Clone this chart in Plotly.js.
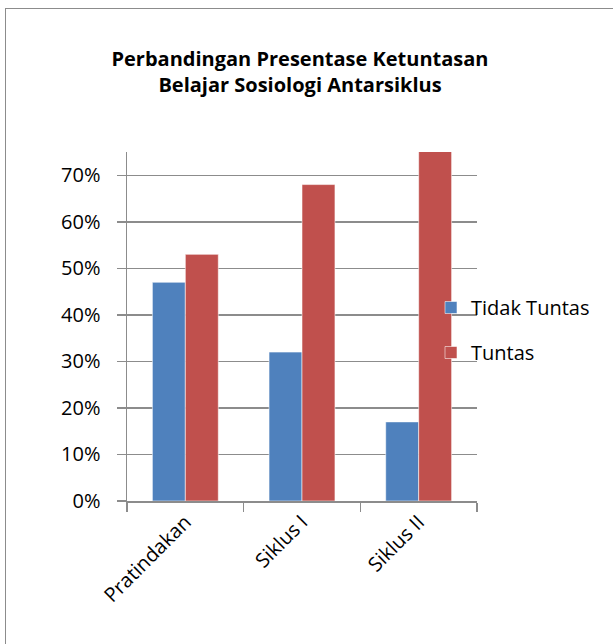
<!DOCTYPE html>
<html>
<head>
<meta charset="utf-8">
<script src="https://cdn.plot.ly/plotly-3.0.1.min.js"></script>
<style>
  html, body { margin: 0; padding: 0; background: #ffffff; }
  #wrap { position: relative; width: 613px; height: 644px; overflow: hidden; }
  #frame { position: absolute; left: 5px; top: 8px; width: 640px; height: 680px;
           border: 1.5px solid #8c8c8c; box-sizing: border-box; pointer-events: none; }
  #chart { position: absolute; left: 0; top: 0; width: 613px; height: 644px; }
</style>
</head>
<body>
<div id="wrap">
  <div id="chart"></div>
  <div id="frame"></div>
</div>
<script>
const categories = ["Pratindakan", "Siklus I", "Siklus II"];
const tidakTuntas = [0.47, 0.32, 0.17];
const tuntas = [0.53, 0.68, 0.83];
const yTickVals = [0, 0.1, 0.2, 0.3, 0.4, 0.5, 0.6, 0.7];
const yTickText = ["0%", "10%", "20%", "30%", "40%", "50%", "60%", "70%"];

const fontFam = "'Open Sans', 'Noto Sans', 'Liberation Sans', sans-serif";

const traces = [
  {
    type: "bar", name: "Tidak Tuntas", x: categories, y: tidakTuntas,
    marker: { color: "#4F81BD", line: { color: "rgba(255,255,255,0.55)", width: 1 } },
    legendgroup: "a", hoverinfo: "none"
  },
  {
    type: "bar", name: "Tuntas", x: categories, y: tuntas,
    marker: { color: "#C0504D", line: { color: "rgba(255,255,255,0.55)", width: 1 } },
    legendgroup: "b", hoverinfo: "none"
  }
];

const layout = {
  width: 613, height: 644,
  margin: { l: 127, r: 136, t: 152, b: 143, pad: 0 },
  paper_bgcolor: "#ffffff", plot_bgcolor: "rgba(0,0,0,0)",
  font: { family: fontFam, size: 20, color: "#000000" },
  title: {
    text: "<b>Perbandingan Presentase Ketuntasan<br>Belajar Sosiologi Antarsiklus</b>",
    font: { family: fontFam, size: 20, color: "#000000" },
    x: 300 / 613, xanchor: "center", xref: "container",
    y: 1 - 66 / 644, yanchor: "middle", yref: "container"
  },
  barmode: "group", bargap: 0.435, bargroupgap: 0,
  showlegend: true,
  legend: {
    x: 1.0 - 46 / 350, xanchor: "left",
    y: (501 - 288) / 349, yanchor: "top",
    bgcolor: "rgba(0,0,0,0)", borderwidth: 0,
    font: { family: fontFam, size: 20, color: "#000000" },
    traceorder: "grouped", tracegroupgap: 16
  },
  xaxis: {
    type: "category", tickson: "boundaries",
    ticks: "outside", ticklen: 9, tickcolor: "#8c8c8c", tickwidth: 1.5,
    showline: true, linecolor: "#8c8c8c", linewidth: 1.5,
    showgrid: false, tickangle: -45,
    tickfont: { family: fontFam, size: 20, color: "#000000" },
    fixedrange: true
  },
  yaxis: {
    range: [0, 0.75], tickvals: yTickVals, ticktext: yTickText,
    ticks: "outside", ticklen: 9, tickcolor: "#8c8c8c", tickwidth: 1.5,
    ticklabelstandoff: 12,
    showline: true, linecolor: "#8c8c8c", linewidth: 1.5,
    showgrid: true, gridcolor: "#8c8c8c", gridwidth: 1.5,
    zeroline: false,
    tickfont: { family: fontFam, size: 20, color: "#000000" },
    fixedrange: true
  }
};

Plotly.newPlot("chart", traces, layout, { displayModeBar: false, staticPlot: true });
</script>
</body>
</html>
